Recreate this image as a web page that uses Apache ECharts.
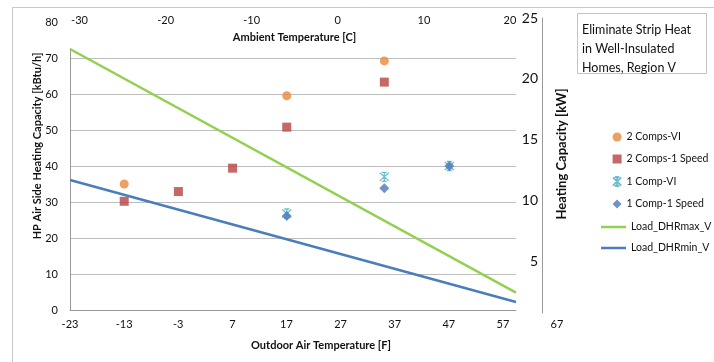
<!DOCTYPE html>
<html><head><meta charset="utf-8">
<script src="https://cdn.jsdelivr.net/npm/echarts@6/dist/echarts.min.js"></script>
<style>html,body{margin:0;padding:0;background:#fff}#c{width:714px;height:362px}</style>
</head><body><div id="c"></div>
<script>
// ---- data ----
const comps2VI_x = [-13, 17, 35];
const comps2VI_y = [35.0, 59.5, 69.2];
const comps2Speed_x = [-13, -3, 7, 17, 35];
const comps2Speed_y = [30.2, 32.9, 39.4, 50.8, 63.3];
const comp1VI_x = [17, 35, 47];
const comp1VI_y = [26.8, 37.0, 40.0];
const comp1Speed_x = [17, 35, 47];
const comp1Speed_y = [26.1, 33.8, 40.0];
const loadX = [-23, 59.3];
const loadMax = [72.5, 4.8];
const loadMin = [36.1, 2.2];
const seriesNames = ['2 Comps-VI', '2 Comps-1 Speed', '1 Comp-VI', '1 Comp-1 Speed', 'Load_DHRmax_V', 'Load_DHRmin_V'];
const titleLines = ['Eliminate Strip Heat', 'in Well-Insulated', 'Homes, Region V'];

const zip = (xs, ys) => xs.map((x, i) => [x, ys[i]]);
const F = 'Lato, "Liberation Sans", sans-serif';
const TXT = '#111';
const AX = '#9a9a9a';
const GRID = '#bdbdbd';
const starPath = 'path://M-1,-1L1,1M-1,1L1,-1M0,-1.1L0,1.1M-0.55,-1.1L0.55,-1.1M-0.55,1.1L0.55,1.1';

const hiddenAxis = (gi) => ({ gridIndex: gi, show: false, type: 'value', min: 0, max: 1, axisLine: { show: false, onZero: false } });

const chart = echarts.init(document.getElementById('c'), null, { renderer: 'canvas' });
chart.setOption({
  animation: false,
  backgroundColor: '#fff',
  textStyle: { fontFamily: F },
  grid: [
    { left: 70, top: 49, width: 446, height: 261 },   // 0 data
    { left: 70, top: 22, width: 446, height: 288 },   // 1 left labels
    { left: 70, top: 22, width: 487, height: 288 },   // 2 bottom labels
    { left: 79.5, top: 27, width: 430.5, height: 283 }, // 3 top axis (C)
    { left: 300, top: 18, width: 242, height: 295 }   // 4 right axis (kW)
  ],
  xAxis: [
    { gridIndex: 0, type: 'value', min: -23, max: 59.3, axisLine: { show: true, onZero: false, lineStyle: { color: AX, width: 1 } },
      axisTick: { show: false }, axisLabel: { show: false }, splitLine: { show: false } },
    hiddenAxis(1),
    { gridIndex: 2, type: 'value', min: -23, max: 67, interval: 10, axisLine: { show: false, onZero: false }, axisTick: { show: false },
      splitLine: { show: false }, axisLabel: { margin: 9, fontSize: 11, color: TXT, fontFamily: F } },
    { gridIndex: 3, type: 'value', position: 'top', min: -30, max: 20, interval: 10, axisLine: { show: false, onZero: false },
      axisTick: { show: false }, splitLine: { show: false }, axisLabel: { margin: 1, fontSize: 11, color: TXT, fontFamily: F } },
    hiddenAxis(4)
  ],
  yAxis: [
    { gridIndex: 0, type: 'value', min: 0, max: 72.5, interval: 10, axisLine: { show: true, onZero: false, lineStyle: { color: AX, width: 1 } },
      axisTick: { show: false }, axisLabel: { show: false },
      splitLine: { show: true, showMaxLine: false, showMinLine: false, lineStyle: { color: GRID, width: 1 } } },
    { gridIndex: 1, type: 'value', min: 0, max: 80, interval: 10, axisLine: { show: false, onZero: false }, axisTick: { show: false },
      splitLine: { show: false }, axisLabel: { margin: 12, fontSize: 11, color: TXT, fontFamily: F } },
    hiddenAxis(2),
    hiddenAxis(3),
    { gridIndex: 4, type: 'value', position: 'right', min: 0.8, max: 25, splitNumber: 5,
      axisLine: { show: true, onZero: false, lineStyle: { color: AX, width: 1 } }, axisTick: { show: false }, splitLine: { show: false },
      axisLabel: { inside: true, margin: 4, fontSize: 14, color: TXT, fontFamily: F, showMinLabel: false } }
  ],
  legend: [
    {
      orient: 'vertical', left: 605.5, top: 125.5, itemWidth: 9, itemHeight: 9, itemGap: 9,
      textStyle: { fontSize: 10.5, color: TXT, fontFamily: F, lineHeight: 13 },
      data: seriesNames.slice(0, 4)
    },
    {
      orient: 'vertical', left: 596, top: 215.5, itemWidth: 25, itemHeight: 2.5, itemGap: 8, icon: 'rect',
      textStyle: { fontSize: 10.5, color: TXT, fontFamily: F, lineHeight: 13 },
      data: seriesNames.slice(4)
    }
  ],
  series: [
    { name: seriesNames[0], type: 'scatter', xAxisIndex: 0, yAxisIndex: 0, symbol: 'circle', symbolSize: 9,
      itemStyle: { color: '#E8883A' }, data: zip(comps2VI_x, comps2VI_y) },
    { name: seriesNames[1], type: 'scatter', xAxisIndex: 0, yAxisIndex: 0, symbol: 'rect', symbolSize: 9,
      itemStyle: { color: '#B5443F' }, data: zip(comps2Speed_x, comps2Speed_y) },
    { name: seriesNames[2], type: 'scatter', xAxisIndex: 0, yAxisIndex: 0, symbol: starPath, symbolSize: 9,
      itemStyle: { color: 'none', borderColor: '#4BACC6', borderWidth: 1.3 }, data: zip(comp1VI_x, comp1VI_y) },
    { name: seriesNames[3], type: 'scatter', xAxisIndex: 0, yAxisIndex: 0, symbol: 'diamond', symbolSize: 10,
      itemStyle: { color: '#4A78B5' }, data: zip(comp1Speed_x, comp1Speed_y) },
    { name: seriesNames[4], type: 'line', xAxisIndex: 0, yAxisIndex: 0, symbol: 'none',
      lineStyle: { color: '#92D050', width: 2.5 }, itemStyle: { color: '#92D050' }, data: zip(loadX, loadMax) },
    { name: seriesNames[5], type: 'line', xAxisIndex: 0, yAxisIndex: 0, symbol: 'none',
      lineStyle: { color: '#4A7EBB', width: 2.5 }, itemStyle: { color: '#4A7EBB' }, data: zip(loadX, loadMin) }
  ],
  graphic: [
    { type: 'rect', shape: { x: 12.5, y: 7.5, width: 800, height: 500 }, style: { fill: 'none', stroke: '#c8c8c8', lineWidth: 1 }, silent: true, z: -10 },
    { type: 'rect', shape: { x: 577.5, y: 13.5, width: 129, height: 60 }, style: { fill: '#fff', stroke: '#c4c4c4', lineWidth: 1 }, z: 10 },
    { type: 'text', x: 582, y: 20, z: 11, style: { text: titleLines.join('\n'), font: '12.5px ' + F, lineHeight: 19, fill: TXT, textVerticalAlign: 'top' } },
    { type: 'text', x: 37, y: 146, rotation: Math.PI / 2, z: 11,
      style: { text: 'HP Air Side Heating Capacity [kBtu/h]', font: 'bold 11px ' + F, fill: TXT, textAlign: 'center', textVerticalAlign: 'middle' } },
    { type: 'text', x: 562, y: 154, rotation: Math.PI / 2, z: 11,
      style: { text: 'Heating Capacity [kW]', font: 'bold 13px ' + F, fill: TXT, textAlign: 'center', textVerticalAlign: 'middle' } },
    { type: 'text', x: 294.5, y: 37.5, z: 11,
      style: { text: 'Ambient Temperature [C]', font: 'bold 11px ' + F, fill: TXT, textAlign: 'center', textVerticalAlign: 'middle' } },
    { type: 'text', x: 321, y: 345.5, z: 11,
      style: { text: 'Outdoor Air Temperature [F]', font: 'bold 11px ' + F, fill: TXT, textAlign: 'center', textVerticalAlign: 'middle' } }
  ]
});
</script></body></html>
